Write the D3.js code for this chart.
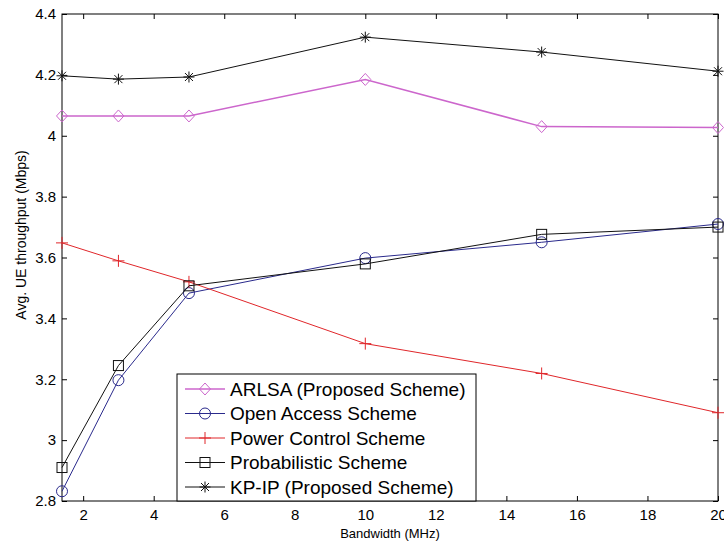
<!DOCTYPE html>
<html>
<head>
<meta charset="utf-8">
<script src="https://cdn.jsdelivr.net/npm/d3@7"></script>
<style>
  body { margin: 0; background: #fff; }
  svg { display: block; }
  text { font-family: "Liberation Sans", Arial, sans-serif; fill: #000; }
</style>
</head>
<body>
<svg id="chart" width="724" height="545"></svg>
<script>
// chart data
const bandwidth = [1.4, 3, 5, 10, 15, 20];
const arlsa = [4.065, 4.065, 4.065, 4.185, 4.03, 4.027];
const openAccess = [2.832, 3.197, 3.483, 3.598, 3.65, 3.71];
const powerControl = [3.648, 3.589, 3.52, 3.317, 3.219, 3.09];
const probabilistic = [2.91, 3.245, 3.507, 3.579, 3.676, 3.70];
const kpip = [4.197, 4.186, 4.193, 4.324, 4.275, 4.212];
const xTicks = [2, 4, 6, 8, 10, 12, 14, 16, 18, 20];
const yTicks = [2.8, 3, 3.2, 3.4, 3.6, 3.8, 4, 4.2, 4.4];

const series = [
  { name: "ARLSA (Proposed Scheme)", values: arlsa, color: "#cc66cc", marker: "diamond", lw: 1.5 },
  { name: "Open Access Scheme", values: openAccess, color: "#2a2a8c", marker: "circle", lw: 1 },
  { name: "Power Control Scheme", values: powerControl, color: "#e0262a", marker: "plus", lw: 1 },
  { name: "Probabilistic Scheme", values: probabilistic, color: "#111111", marker: "square", lw: 1 },
  { name: "KP-IP (Proposed Scheme)", values: kpip, color: "#111111", marker: "star", lw: 1 }
];

const plotL = 62, plotR = 718, plotT = 14, plotB = 501;
const svg = d3.select("#chart");

const x = d3.scaleLinear().domain([1.4, 20]).range([plotL, plotR]);
const y = d3.scaleLinear().domain([2.8, 4.4]).range([plotB, plotT]);

// box
svg.append("rect")
  .attr("x", plotL).attr("y", plotT)
  .attr("width", plotR - plotL).attr("height", plotB - plotT)
  .attr("fill", "none").attr("stroke", "#000").attr("stroke-width", 1);

// axes with inward ticks
const fmt = d => String(d);
svg.append("g").attr("transform", `translate(0,${plotB})`)
  .call(d3.axisBottom(x).tickValues(xTicks).tickFormat(fmt).tickSizeInner(-5).tickSizeOuter(0).tickPadding(8))
  .call(g => g.select(".domain").remove())
  .call(g => g.selectAll("text").attr("font-size", 15).attr("font-family", "Liberation Sans, Arial, sans-serif"));
svg.append("g").attr("transform", `translate(0,${plotT})`)
  .call(d3.axisTop(x).tickValues(xTicks).tickFormat("").tickSizeInner(-5).tickSizeOuter(0))
  .call(g => g.select(".domain").remove());
svg.append("g").attr("transform", `translate(${plotL},0)`)
  .call(d3.axisLeft(y).tickValues(yTicks).tickFormat(fmt).tickSizeInner(-5).tickSizeOuter(0).tickPadding(6))
  .call(g => g.select(".domain").remove())
  .call(g => g.selectAll("text").attr("font-size", 15).attr("font-family", "Liberation Sans, Arial, sans-serif"));
svg.append("g").attr("transform", `translate(${plotR},0)`)
  .call(d3.axisRight(y).tickValues(yTicks).tickFormat("").tickSizeInner(-5).tickSizeOuter(0))
  .call(g => g.select(".domain").remove());

// axis labels
svg.append("text")
  .attr("x", (plotL + plotR) / 2).attr("y", 538)
  .attr("text-anchor", "middle").attr("font-size", 13)
  .text("Bandwidth (MHz)");
svg.append("text")
  .attr("transform", `translate(26,235) rotate(-90)`)
  .attr("text-anchor", "middle").attr("font-size", 14)
  .text("Avg. UE throughput (Mbps)");

function drawMarker(g, type, cx, cy, color) {
  const s = g.append("g").attr("transform", `translate(${cx},${cy})`)
    .attr("fill", "none").attr("stroke", color).attr("stroke-width", 1);
  if (type === "diamond") s.append("path").attr("d", "M0,-6L5.5,0L0,6L-5.5,0Z");
  if (type === "circle") s.append("circle").attr("r", 5.5);
  if (type === "square") s.append("rect").attr("x", -5).attr("y", -5).attr("width", 10).attr("height", 10);
  if (type === "plus") s.append("path").attr("d", "M-6,0H6M0,-6V6");
  if (type === "star") s.append("path").attr("d", "M-5.5,0H5.5M0,-5.5V5.5M-4,-4L4,4M-4,4L4,-4");
}

const line = d3.line().x(d => x(d[0])).y(d => y(d[1]));
series.forEach(s => {
  const pts = bandwidth.map((b, i) => [b, s.values[i]]);
  svg.append("path").datum(pts)
    .attr("d", line).attr("fill", "none")
    .attr("stroke", s.color).attr("stroke-width", s.lw);
  const g = svg.append("g");
  pts.forEach(p => drawMarker(g, s.marker, x(p[0]), y(p[1]), s.color));
});

// legend
const lg = svg.append("g");
lg.append("rect").attr("x", 177).attr("y", 374).attr("width", 299).attr("height", plotB - 374)
  .attr("fill", "#fff").attr("stroke", "#000").attr("stroke-width", 1);
series.forEach((s, i) => {
  const yy = 389 + i * 24.5;
  lg.append("line").attr("x1", 185).attr("x2", 225).attr("y1", yy).attr("y2", yy)
    .attr("stroke", s.color).attr("stroke-width", s.lw);
  drawMarker(lg, s.marker, 205, yy, s.color);
  lg.append("text").attr("x", 230).attr("y", yy).attr("dy", "0.36em")
    .attr("font-size", 19).text(s.name);
});
</script>
</body>
</html>
